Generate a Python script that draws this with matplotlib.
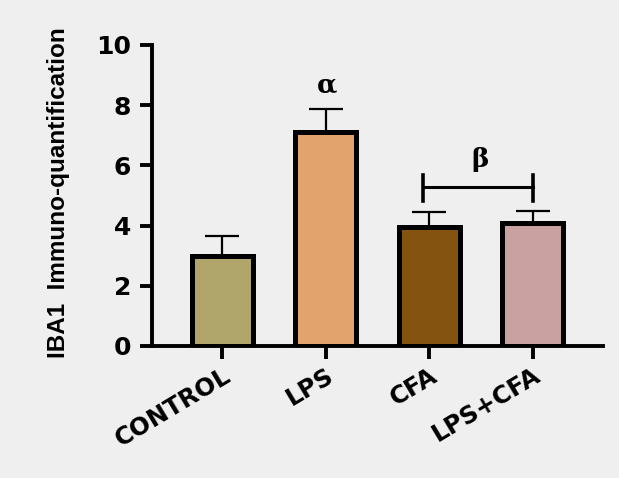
import numpy as np
import matplotlib
matplotlib.use('Agg')
import matplotlib.pyplot as plt
import matplotlib.transforms as mtransforms

# Data
groups = ['CONTROL', 'LPS', 'CFA', 'LPS+CFA']
means = [3.0, 7.1, 3.95, 4.08]
sem = [0.65, 0.78, 0.5, 0.42]
colors = ['#b0a56a', '#e2a46c', '#845310', '#c9a1a0']
y_ticks = [0, 2, 4, 6, 8, 10]

bg = '#efefef'
fig = plt.figure(figsize=(6.19, 4.78), dpi=100, facecolor=bg)
ax = fig.add_axes([0.2456, 0.2762, 0.7286, 0.6297], facecolor=bg)

x = np.arange(len(groups))
ax.errorbar(x, means, yerr=[np.zeros(len(means)), sem], fmt='none',
            ecolor='black', elinewidth=1.6, capsize=12, capthick=1.6, zorder=1)
ax.bar(x, means, width=0.59, color=colors, edgecolor='black', linewidth=3.6, zorder=2)

# significance marks
ax.text(1.01, 8.67, 'α', ha='center', va='center', fontsize=19,
        family='DejaVu Serif', fontweight='bold')
ax.plot([1.94, 3.0], [5.27, 5.27], color='black', lw=2.2)
ax.plot([1.94, 1.94], [4.83, 5.68], color='black', lw=2.6)
ax.plot([3.0, 3.0], [4.83, 5.68], color='black', lw=2.6)
ax.text(2.49, 6.18, 'β', ha='center', va='center', fontsize=19,
        family='DejaVu Serif', fontweight='bold')

ax.set_xlim(-0.68, 3.68)
ax.set_ylim(0, 10)
ax.set_yticks(y_ticks)
ax.set_yticklabels([str(v) for v in y_ticks], fontsize=18, fontweight='bold',
                   family='DejaVu Sans')
ax.set_xticks(x)
ax.set_xticklabels(groups, rotation=31, ha='right', rotation_mode='anchor',
                   fontsize=17.5, fontweight='bold', family='DejaVu Sans')
offset = mtransforms.ScaledTranslation(12 / 100, -15 / 100, fig.dpi_scale_trans)
for lab in ax.get_xticklabels():
    lab.set_transform(lab.get_transform() + offset)

for s in ['top', 'right']:
    ax.spines[s].set_visible(False)
for s in ['left', 'bottom']:
    ax.spines[s].set_linewidth(2.8)
ax.tick_params(axis='both', length=9, width=2.8, direction='out')
ax.tick_params(axis='y', pad=6)

fig.text(59 / 619, 1 - 192.5 / 478, 'IBA1  Immuno-quantification', rotation=90,
         ha='center', va='center', fontsize=17.5, fontweight='bold',
         family='Liberation Sans')

fig.savefig('out.png', dpi=100, facecolor=bg)
